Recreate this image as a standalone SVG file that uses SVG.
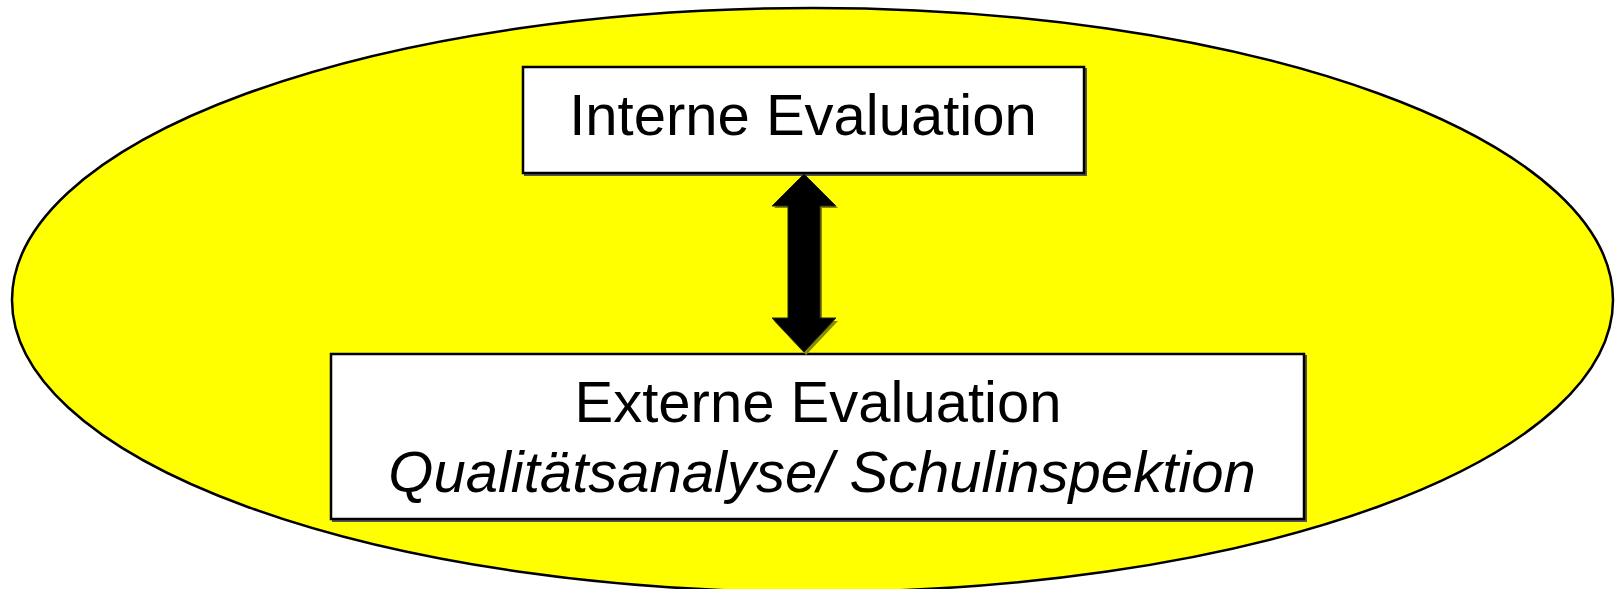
<svg xmlns="http://www.w3.org/2000/svg" width="1619" height="589" viewBox="0 0 1619 589">
  <style>
    .box { fill: #ffffff; stroke: #000000; stroke-width: 2.5; }
    .shadow { fill: none; stroke: #555555; stroke-width: 2; }
    .t { font-family: "Liberation Sans", Arial, sans-serif; font-size: 58px; fill: #000000; text-anchor: middle; }
    .it { font-style: italic; }
  </style>
  <rect width="1619" height="589" fill="#ffffff"/>
  <g id="background">
    <ellipse cx="812.5" cy="300" rx="800.5" ry="292" fill="#ffff00" stroke="#000000" stroke-width="2.5"/>
  </g>
  <g id="node-interne">
    <rect class="shadow" x="525" y="69" width="561" height="106"/>
    <rect class="box" x="523" y="67" width="561" height="106"/>
    <text class="t" x="803" y="135">Interne Evaluation</text>
  </g>
  <g id="node-externe">
    <rect class="shadow" x="333" y="356" width="973" height="165"/>
    <rect class="box" x="331" y="354" width="973" height="165"/>
    <text class="t" x="818" y="422">Externe Evaluation</text>
    <text class="t it" x="822" y="492">Qualitätsanalyse/ Schulinspektion</text>
  </g>
  <g id="connectors">
    <polygon points="806,176 838,208 822,208 822,321 838,321 806,355 774,321 790,321 790,208 774,208" fill="#8a8a00"/>
    <polygon points="804,174 836,206 820,206 820,318 836,318 804,352 772,318 788,318 788,206 772,206" fill="#000000" stroke="#222222" stroke-width="1"/>
  </g>
</svg>
